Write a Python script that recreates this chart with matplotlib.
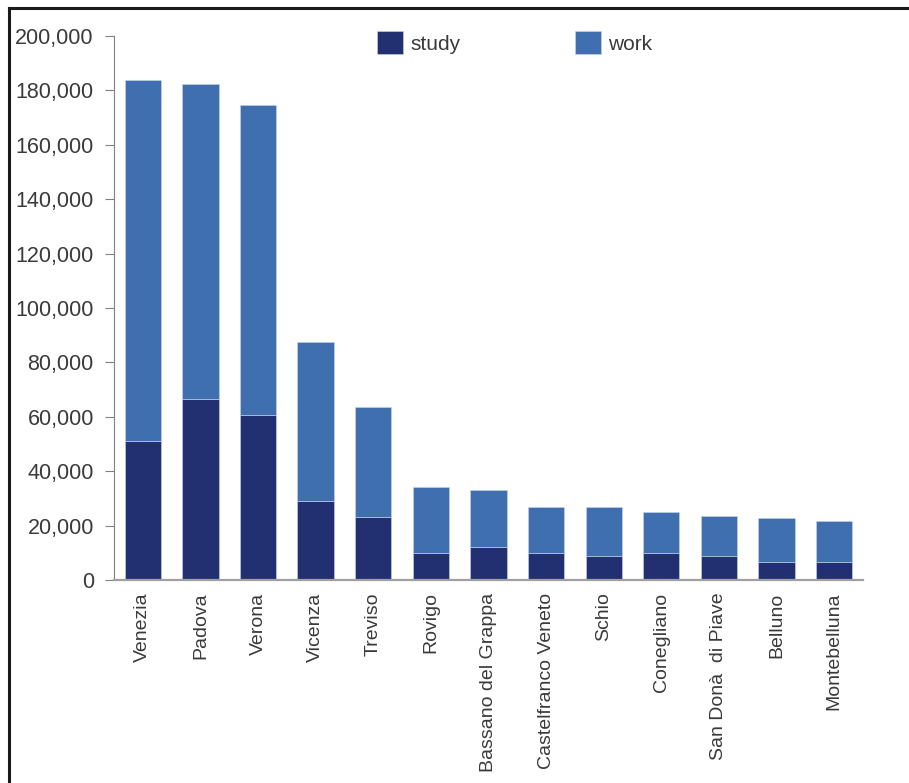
import matplotlib
matplotlib.use("Agg")
import matplotlib.pyplot as plt
import numpy as np
from matplotlib.lines import Line2D
from matplotlib.patches import Patch

plt.rcParams['font.family'] = ['Liberation Sans', 'DejaVu Sans']

cities = ["Venezia", "Padova", "Verona", "Vicenza", "Treviso", "Rovigo",
          "Bassano del Grappa", "Castelfranco Veneto", "Schio", "Conegliano",
          "San Donà  di Piave", "Belluno", "Montebelluna"]
study = [51000, 66500, 60500, 29000, 23000, 10000, 12000, 10000, 8700, 10000, 8700, 6600, 6600]
total = [184000, 182500, 174500, 87500, 63500, 34000, 33000, 27000, 27000, 25000, 23500, 22900, 21500]
work = [t - s for t, s in zip(total, study)]

c_study = "#223071"
c_work = "#3f6faf"
txt = "#3a3a3a"

fig = plt.figure(figsize=(9.09, 7.83), dpi=100)
ax = fig.add_axes([0.1254, 0.2593, 0.824, 0.6947])

x = np.arange(len(cities))
ax.bar(x, study, width=0.63, color=c_study, edgecolor="#c8d4ea", linewidth=0.4)
ax.bar(x, work, width=0.63, bottom=study, color=c_work, edgecolor="#c8d4ea", linewidth=0.4)

ax.set_xlim(-0.5, len(cities) - 0.5)
ax.set_ylim(0, 200000)
ax.set_yticks(np.arange(0, 200001, 20000))
ax.set_yticklabels([f"{v:,}" for v in range(0, 200001, 20000)])
ax.set_xticks(x)
ax.set_xticklabels(cities, rotation=90)

for s in ["top", "right"]:
    ax.spines[s].set_visible(False)
ax.spines["left"].set_color("#808080")
ax.spines["bottom"].set_color("#a0a0a0")
ax.spines["bottom"].set_linewidth(1.6)
ax.tick_params(axis="y", length=6.5, color="#808080", pad=8, labelsize=15.5, labelcolor=txt)
ax.tick_params(axis="x", length=0, pad=9, labelsize=14, labelcolor=txt)

handles = [Patch(facecolor=c_study, edgecolor="#c8d4ea", linewidth=0.4),
           Patch(facecolor=c_work, edgecolor="#c8d4ea", linewidth=0.4)]
fig.legend(handles, ["study", "work"], loc="upper left", bbox_to_anchor=(0.394, 0.984),
           ncol=2, frameon=False, fontsize=15, labelcolor=txt, handlelength=1.25,
           handleheight=1.3, handletextpad=0.35, columnspacing=5.5)

# frame lines on the page
fig.add_artist(Line2D([0.0099, 1.0], [0.9898, 0.9898], color="#1a1a1a", linewidth=2.2))
fig.add_artist(Line2D([0.0099, 0.0099], [0.0, 0.9898], color="#1a1a1a", linewidth=2.2))

fig.savefig("out.png", dpi=100)
